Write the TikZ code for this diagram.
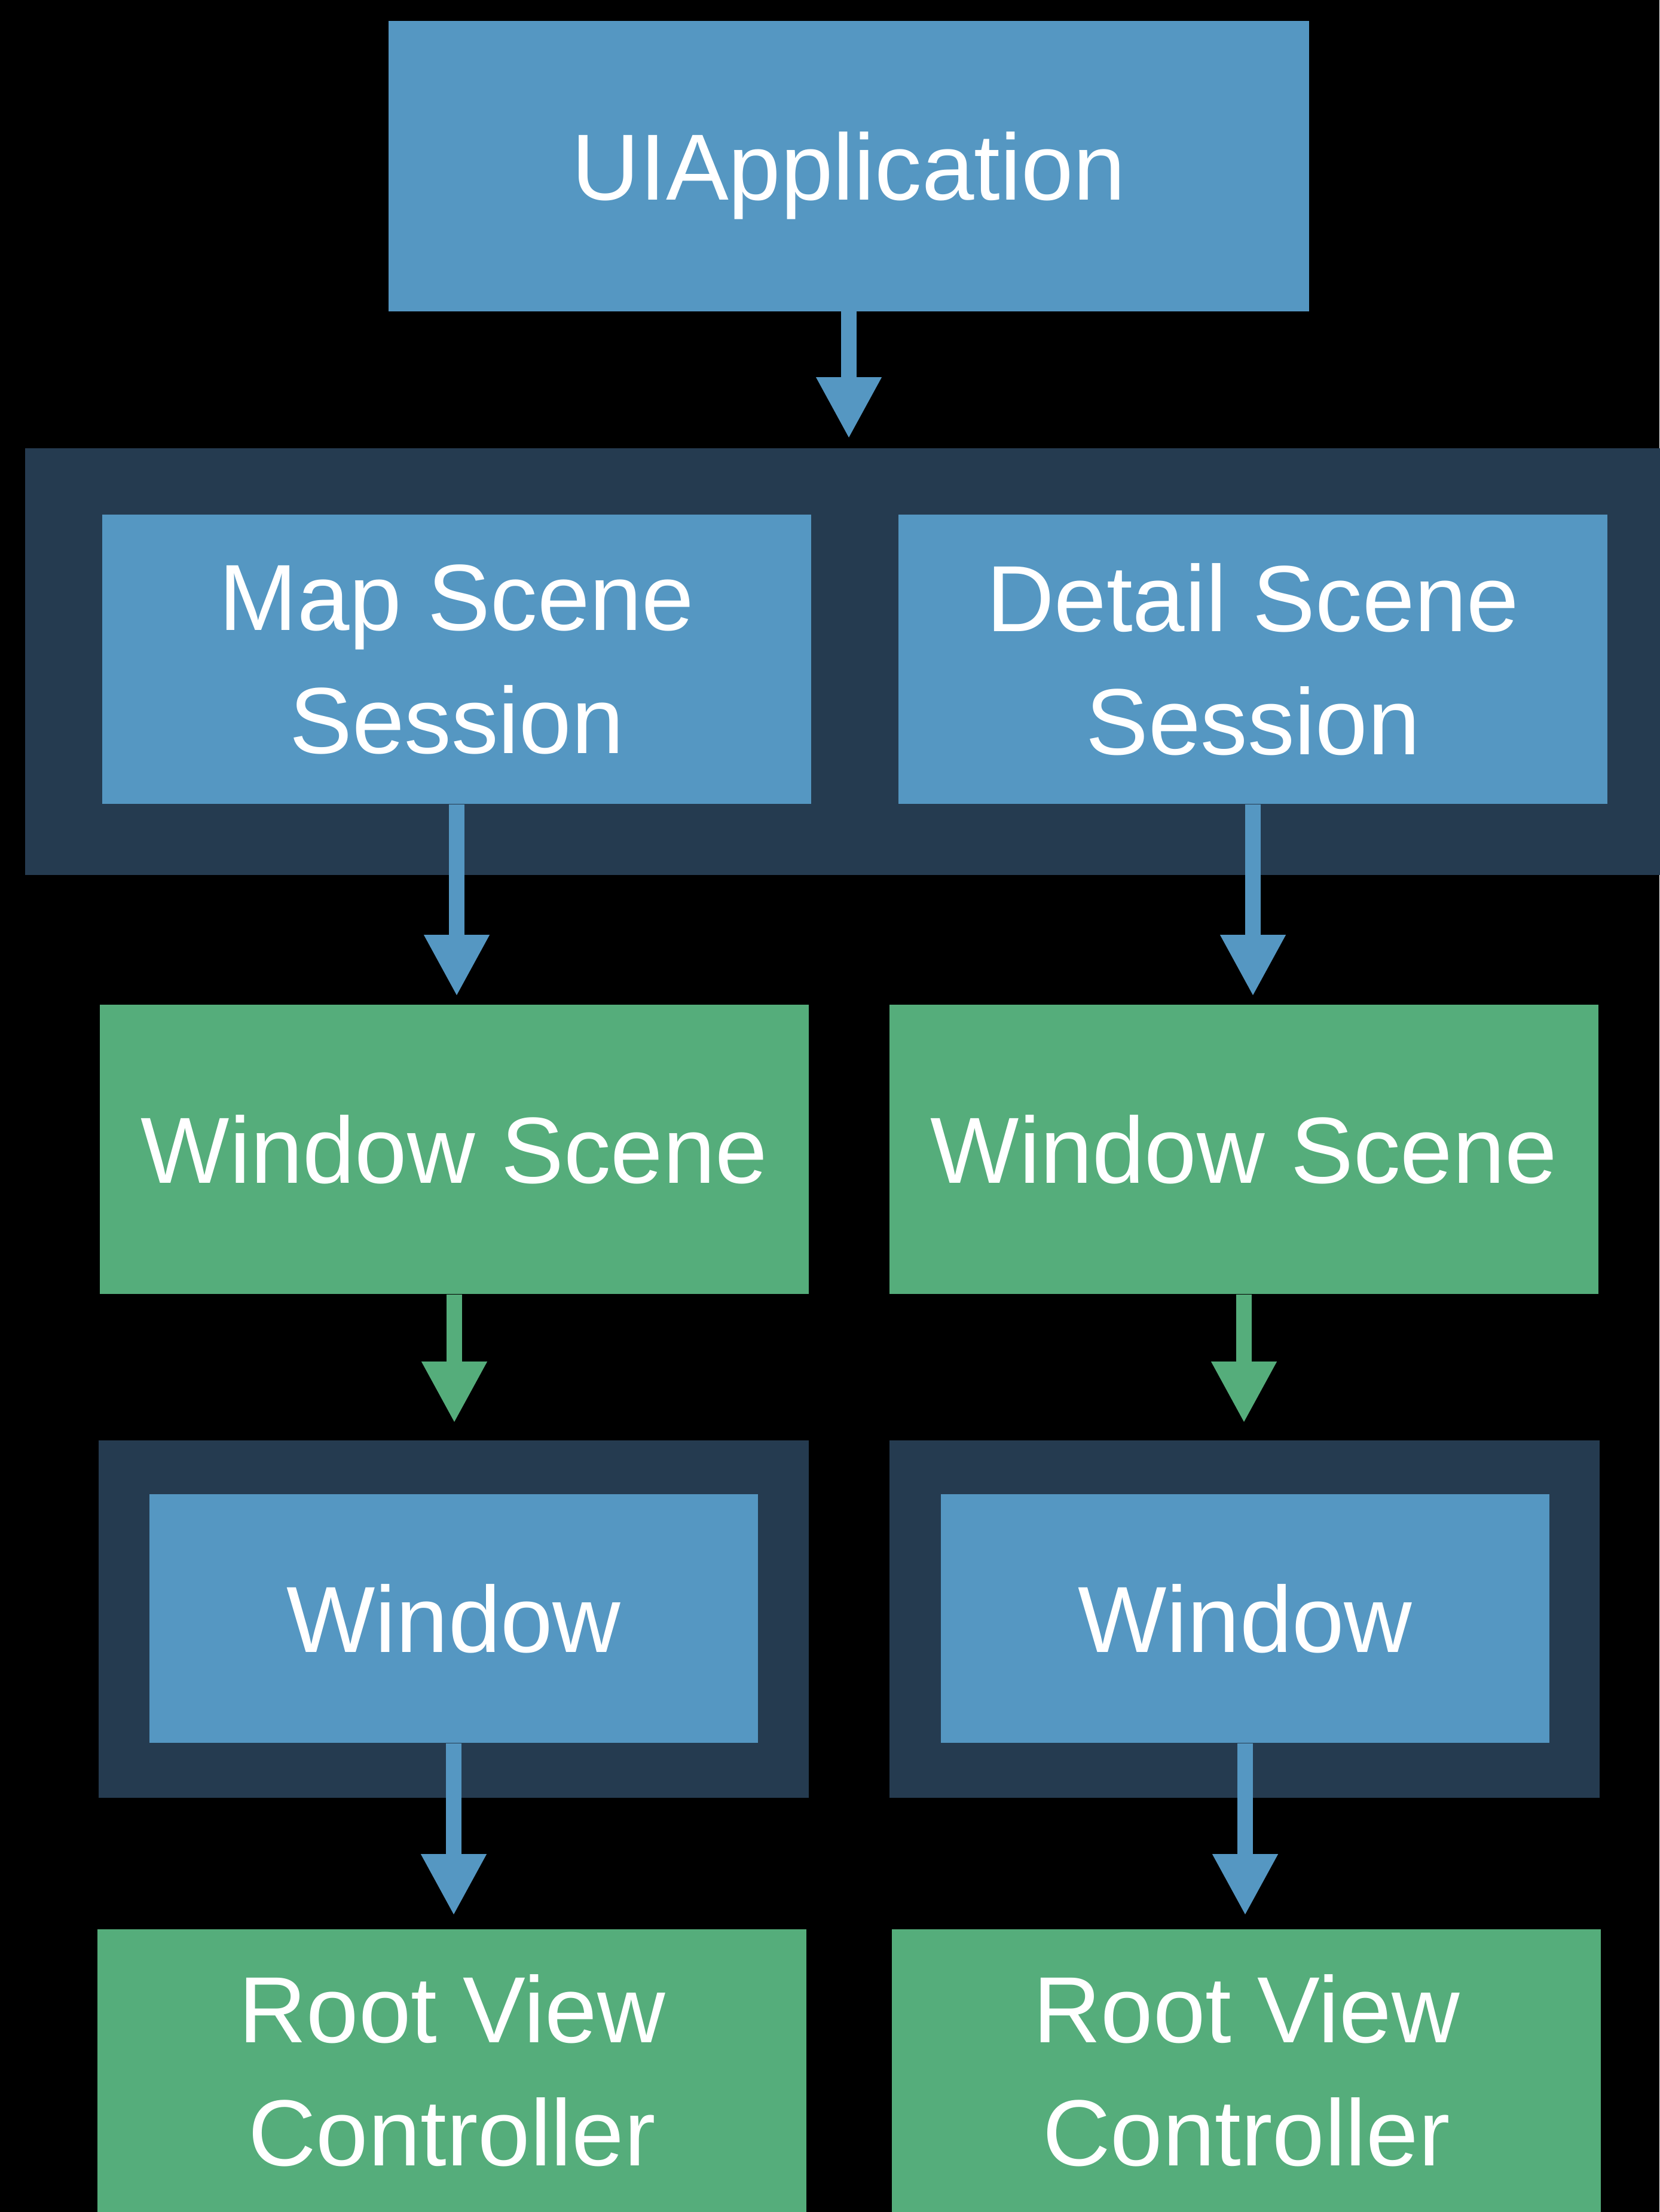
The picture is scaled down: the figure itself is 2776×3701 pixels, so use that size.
\documentclass[tikz,border=0pt]{standalone}
\usepackage{fontspec}
\setmainfont{Liberation Sans}
\usetikzlibrary{arrows.meta}

\definecolor{appblue}{RGB}{85,151,194}
\definecolor{appgreen}{RGB}{85,173,123}
\definecolor{appnavy}{RGB}{37,59,80}

\newcommand{\boxfont}{\fontsize{44.7}{58.6}\selectfont}

\begin{document}
\begin{tikzpicture}[x=0.01cm, y=-0.01cm,
  bluebox/.style={fill=appblue, text=white, inner sep=0pt, align=center,
    font=\boxfont, minimum width=11.86cm, minimum height=4.84cm},
  greenbox/.style={bluebox, fill=appgreen},
  holder/.style={fill=appnavy, inner sep=0pt},
  flow/.style={draw=appblue, line width=0.26cm,
    -{Triangle[length=1.03cm, width=1.02cm]}},
  greenflow/.style={flow, draw=appgreen}]
 \fill[black] (0,0) rectangle (2776,3701);
 \useasboundingbox (0,0) rectangle (2776,3701);

 \node[bluebox, minimum width=15.4cm, minimum height=4.85cm, text depth=0pt] (app) at (1420,278) {UIApplication};

 \node[holder, minimum width=27.33cm, minimum height=7.14cm] (grp) at (1409.5,1107) {};
 \node[bluebox] (mapss) at (764,1103) {Map Scene\\Session};
 \node[bluebox] (detss) at (2096,1103) {Detail Scene\\Session};

 \node[greenbox] (wsl) at (760,1923) {Window Scene};
 \node[greenbox] (wsr) at (2081,1923) {Window Scene};

 \node[holder, minimum width=11.88cm, minimum height=5.98cm] (wfl) at (759,2709) {};
 \node[holder, minimum width=11.88cm, minimum height=5.98cm] (wfr) at (2082,2709) {};
 \node[bluebox, minimum width=10.17cm, minimum height=4.16cm] (wl) at (759,2708) {Window};
 \node[bluebox, minimum width=10.17cm, minimum height=4.16cm] (wr) at (2083,2708) {Window};

 \node[greenbox, minimum height=4.73cm] (rvcl) at (756,3464.5) {Root View\\Controller};
 \node[greenbox, minimum height=4.73cm] (rvcr) at (2085,3464.5) {Root View\\Controller};

 \draw[flow, shorten >=0.15cm] (app.south) -- (app.south |- grp.north);
 \draw[flow, shorten >=0.13cm] (mapss.south) -- (mapss.south |- wsl.north);
 \draw[flow, shorten >=0.13cm] (detss.south) -- (detss.south |- wsr.north);
 \draw[greenflow, shorten >=0.28cm] (wsl.south) -- (wsl.south |- wfl.north);
 \draw[greenflow, shorten >=0.28cm] (wsr.south) -- (wsr.south |- wfr.north);
 \draw[flow, shorten >=0.22cm] (wl.south) -- (wl.south |- rvcl.north);
 \draw[flow, shorten >=0.22cm] (wr.south) -- (wr.south |- rvcr.north);
\end{tikzpicture}
\end{document}
